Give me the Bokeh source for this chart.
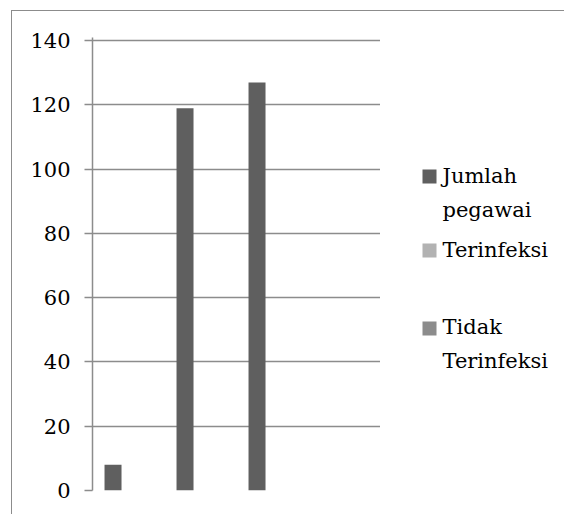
from bokeh.plotting import figure
from bokeh.layouts import row
from bokeh.models import FactorRange, Range1d, ColumnDataSource, FixedTicker
from bokeh.transform import dodge
from bokeh.embed import file_html
from bokeh.resources import INLINE

categories = ["1", "2", "3", "4"]
jumlah_pegawai = [8, 119, 127, 0]
terinfeksi = [0, 0, 0, 0]
tidak_terinfeksi = [0, 0, 0, 0]
series_names = ["Jumlah\npegawai", "Terinfeksi", "Tidak\nTerinfeksi"]
series_colors = ["#5f5f5f", "#b2b2b2", "#8c8c8c"]
y_ticks = [0, 20, 40, 60, 80, 100, 120, 140]

FONT = "DejaVu Serif"
FSIZE = "21px"
GRID = "#8c8c8c"
H = 503
TOP, BOTTOM = 26, 24
FRAME_H = H - TOP - BOTTOM

src = ColumnDataSource(dict(cat=categories, s0=jumlah_pegawai, s1=terinfeksi, s2=tidak_terinfeksi))

# ---- chart ----
p = figure(
    x_range=FactorRange(factors=categories, range_padding=0),
    y_range=Range1d(0, 141),
    width=368, height=H,
    output_backend="svg", toolbar_location=None,
    min_border_left=80, min_border_right=0, min_border_top=TOP, min_border_bottom=BOTTOM,
)
p.outline_line_color = None

offsets = [-0.215, 0.02, 0.255]
for i, (col, color) in enumerate(zip(["s0", "s1", "s2"], series_colors)):
    p.vbar(x=dodge("cat", offsets[i], range=p.x_range), top=col, width=0.236,
           source=src, fill_color=color, line_color=None)

p.xaxis.visible = False
p.xgrid.visible = False
p.yaxis.ticker = FixedTicker(ticks=y_ticks)
p.yaxis.axis_line_color = GRID
p.yaxis.axis_line_width = 1.5
p.yaxis.major_tick_line_color = GRID
p.yaxis.major_tick_line_width = 1.5
p.yaxis.major_tick_in = 0
p.yaxis.major_tick_out = 8
p.yaxis.minor_tick_line_color = None
p.yaxis.major_label_standoff = 14
p.yaxis.major_label_text_font = FONT
p.yaxis.major_label_text_font_size = FSIZE
p.yaxis.major_label_text_color = "black"
p.ygrid.ticker = FixedTicker(ticks=y_ticks)
p.ygrid.grid_line_color = GRID
p.ygrid.grid_line_width = 1.5

# ---- legend panel (pixel-like coordinates, y downwards from frame top) ----
LW = 184
pl = figure(
    x_range=Range1d(0, LW), y_range=Range1d(FRAME_H, 0),
    width=LW, height=H, x_axis_type=None, y_axis_type=None,
    output_backend="svg", toolbar_location=None,
    min_border_left=0, min_border_right=0, min_border_top=TOP, min_border_bottom=BOTTOM,
)
pl.outline_line_color = None
pl.grid.visible = False

sq_x = 49
sq_y = [139, 213, 291]
txt_x = 62
txt_y = [126.5, 200.5, 277.5]
leg = ColumnDataSource(dict(name=series_names, color=series_colors,
                            sx=[sq_x] * 3, sy=sq_y, tx=[txt_x] * 3, ty=txt_y))
pl.rect(x="sx", y="sy", width=14, height=14, fill_color="color", line_color=None, source=leg)
pl.text(x="tx", y="ty", text="name", source=leg, text_font={"value": FONT},
        text_font_size=FSIZE, text_color="black", text_baseline="top",
        text_align="left", text_line_height=1.42)

lay = row(p, pl)
lay.styles = {"border-left": "1px solid #8c8c8c", "border-top": "1px solid #8c8c8c",
              "margin-left": "11px", "margin-top": "10px"}

open("out.html", "w").write(file_html(lay, INLINE))
